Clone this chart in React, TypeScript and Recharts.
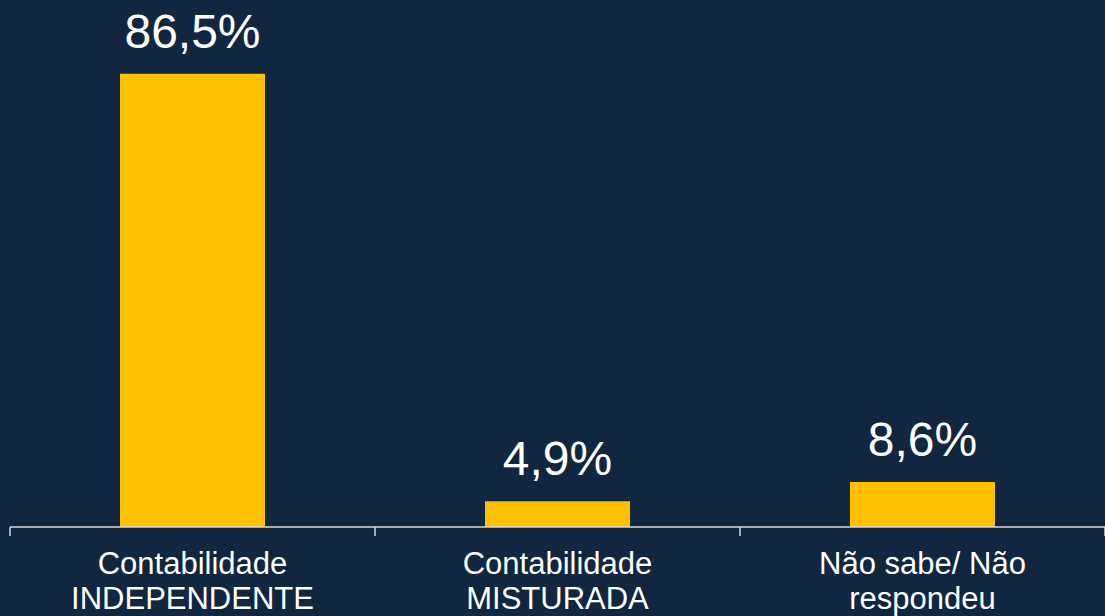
import React from 'react';
import { Bar, BarChart, LabelList, XAxis, YAxis } from 'recharts';

const categories = [
  ['Contabilidade', 'INDEPENDENTE'],
  ['Contabilidade', 'MISTURADA'],
  ['Não sabe/ Não', 'respondeu'],
];
const values = [86.5, 4.9, 8.6];

const data = categories.map((lines, i) => ({
  name: lines.join(' '),
  lines,
  value: values[i],
}));

const BG = '#11263f';
const AXIS = '#d9d9d9';

const CategoryTick = (props: any) => {
  const { x, y, payload, index } = props;
  const half = payload?.offset ?? 182.5;
  const lines = data[index]?.lines ?? [String(payload.value)];
  return (
    <g>
      <line x1={x - half} x2={x - half} y1={y} y2={y + 9} stroke={AXIS} strokeWidth={1.5} />
      {index === data.length - 1 && (
        <line x1={x + half} x2={x + half} y1={y} y2={y + 9} stroke={AXIS} strokeWidth={1.5} />
      )}
      <text textAnchor='middle' fill='#ffffff' fontSize={31} fontFamily='"Liberation Sans", Arial, sans-serif'>
        {lines.map((l: string, i: number) => (
          <tspan key={i} x={x} y={y + 47 + i * 35}>
            {l}
          </tspan>
        ))}
      </text>
    </g>
  );
};

const fmt = (v: any) => `${String(v).replace('.', ',')}%`;

export default function App() {
  return (
    <div style={{ position: 'absolute', left: 0, top: 0, width: 1105, height: 616, background: BG }}>
      <BarChart
        width={1105}
        height={616}
        data={data}
        margin={{ top: 3, right: 0, bottom: 0, left: 10 }}
        barCategoryGap={0}
      >
        <XAxis
          dataKey='name'
          axisLine={{ stroke: AXIS, strokeWidth: 1.5 }}
          tickLine={false}
          tickSize={0}
          tickMargin={0}
          height={89}
          interval={0}
          tick={<CategoryTick />}
        />
        <YAxis hide domain={[0, 100]} />
        <Bar dataKey='value' fill='#ffc000' barSize={145} isAnimationActive={false}>
          <LabelList
            dataKey='value'
            position='top'
            offset={26}
            formatter={fmt}
            fill='#ffffff'
            fontSize={48}
            fontFamily='"Liberation Sans", Arial, sans-serif'
          />
        </Bar>
      </BarChart>
    </div>
  );
}
